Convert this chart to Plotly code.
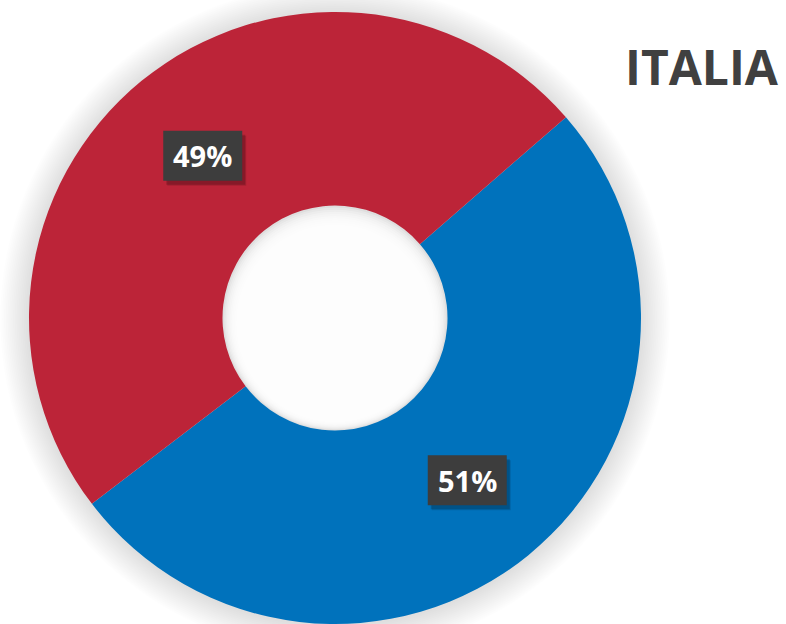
import math
import plotly.graph_objects as go

labels = ["Blu", "Rosso"]
values = [51, 49]
colors = ["#0072BC", "#BC2438"]
title_text = "ITALIA"

W, H = 786, 624
CX, CY = 335, 318          # pie centre (px, from top-left)
R, R_HOLE = 306, 112.5     # outer / hole radius (px)
ROT = 49
BOX_W, BOX_H = 79, 50

fig = go.Figure()
fig.add_trace(go.Pie(
    labels=labels, values=values, sort=False, direction="clockwise",
    rotation=ROT, hole=R_HOLE / R,
    marker=dict(colors=colors, line=dict(width=0)),
    textinfo="none", hoverinfo="label+percent", showlegend=False,
    domain=dict(x=[(CX - R) / W, (CX + R) / W], y=[(H - CY - R) / H, (H - CY + R) / H]),
))

def px2paper(x, y):
    return x / W, 1 - y / H

shapes = []
# soft outer shadow
for k in range(16, 0, -1):
    rr = R + k * 1.8
    x0, y1 = px2paper(CX - rr, CY - rr + 1)
    x1, y0 = px2paper(CX + rr, CY + rr + 1)
    shapes.append(dict(type="circle", xref="paper", yref="paper", x0=x0, x1=x1, y0=y0, y1=y1,
                       fillcolor="rgba(0,0,0,0.009)", line=dict(width=0), layer="below"))
# hole inner shadow
x0, y1 = px2paper(CX - R_HOLE, CY - R_HOLE)
x1, y0 = px2paper(CX + R_HOLE, CY + R_HOLE)
shapes.append(dict(type="circle", xref="paper", yref="paper", x0=x0, x1=x1, y0=y0, y1=y1,
                   fillcolor="#dedede", line=dict(width=0), layer="below"))
for k in range(1, 11):
    rr = R_HOLE - k * 1.5
    off = k * 0.6
    x0, y1 = px2paper(CX - rr, CY - rr + off)
    x1, y0 = px2paper(CX + rr, CY + rr + off)
    shapes.append(dict(type="circle", xref="paper", yref="paper", x0=x0, x1=x1, y0=y0, y1=y1,
                       fillcolor="rgba(255,255,255,0.28)", line=dict(width=0), layer="below"))

annotations = []
total = sum(values)
start = ROT
rmid = (R + R_HOLE) / 2
for v in values:
    span = v / total * 360
    mid = math.radians(start + span / 2)
    start += span
    px = CX + rmid * math.sin(mid)
    py = CY - rmid * math.cos(mid)
    txt = f"<b>{round(v / total * 100)}%</b>"
    ax, ay = px2paper(px, py)
    # drop shadow + box drawn as pixel-sized shapes anchored at label centre
    for dx, dy, col in [(4, 5, "rgba(0,0,0,0.12)"), (3, 4, "rgba(0,0,0,0.18)"), (0, 0, "#3d3d3d")]:
        shapes.append(dict(type="rect", xref="paper", yref="paper", xsizemode="pixel", ysizemode="pixel",
                           xanchor=ax, yanchor=ay,
                           x0=-BOX_W / 2 + dx, x1=BOX_W / 2 + dx, y0=-BOX_H / 2 - dy, y1=BOX_H / 2 - dy,
                           fillcolor=col, line=dict(width=0), layer="above"))
    annotations.append(dict(x=ax, y=ay, xref="paper", yref="paper", xanchor="center", yanchor="middle",
                            text=txt, showarrow=False,
                            font=dict(family="Open Sans", size=29, color="white")))

tx, ty = px2paper(702, 67)
annotations.append(dict(x=tx, y=ty, xref="paper", yref="paper", xanchor="center", yanchor="middle",
                        text=f"<b>{title_text}</b>",
                        showarrow=False, font=dict(family="Open Sans", size=48, color="#404040")))

fig.update_layout(width=W, height=H, margin=dict(l=0, r=0, t=0, b=0),
                  paper_bgcolor="white", plot_bgcolor="white",
                  shapes=shapes, annotations=annotations)
fig.write_html("out.html", config={"displayModeBar": False},
               post_script="document.body.style.margin='0';")
